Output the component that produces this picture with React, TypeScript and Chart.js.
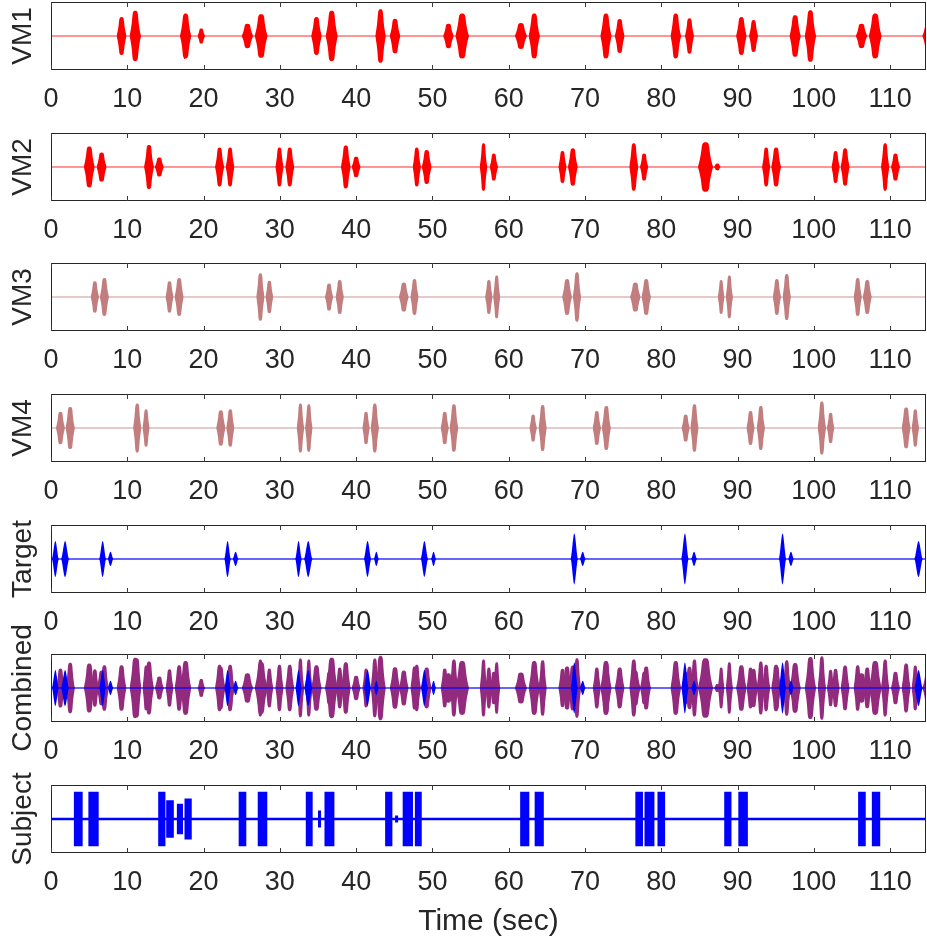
import React, { useEffect, useRef } from 'react';
import { Chart, registerables } from 'chart.js';

Chart.register(...registerables);

// ---------- data ----------
const X_MIN = 0;
const X_MAX = 114.7;
const X_END = 116;
const X_TICKS = [0, 10, 20, 30, 40, 50, 60, 70, 80, 90, 100, 110];

const PANEL_LABELS = ['VM1', 'VM2', 'VM3', 'VM4', 'Target', 'Combined', 'Subject'];
const X_TITLE = 'Time (sec)';

// bursts: [start sec, end sec, relative amplitude]
const VM1_BURSTS = [
  [8.6, 9.9, 0.56], [10.3, 11.8, 0.74],
  [16.9, 18.4, 0.66], [19.2, 20.2, 0.22],
  [25.0, 26.5, 0.36], [26.7, 28.4, 0.64],
  [34.1, 35.5, 0.56], [36.0, 37.6, 0.74],
  [42.5, 43.9, 0.79], [44.4, 45.8, 0.51],
  [51.4, 52.8, 0.36], [53.0, 54.8, 0.66],
  [60.8, 62.4, 0.38], [62.6, 64.1, 0.66],
  [72.0, 73.5, 0.66], [73.9, 75.2, 0.5],
  [81.2, 82.6, 0.66], [83.1, 84.3, 0.52],
  [89.8, 91.2, 0.56], [91.5, 92.7, 0.47],
  [96.8, 98.3, 0.61], [98.8, 100.3, 0.76],
  [105.5, 107.0, 0.36], [107.2, 108.9, 0.66],
  [114.2, 115.5, 0.3],
];

const VM2_BURSTS = [
  [4.3, 5.75, 0.6], [5.97, 7.3, 0.43],
  [12.2, 13.5, 0.65], [13.6, 14.8, 0.28],
  [21.5, 22.7, 0.57], [22.9, 24.05, 0.57],
  [29.4, 30.5, 0.57], [30.7, 31.9, 0.57],
  [38.0, 39.3, 0.63], [39.4, 40.6, 0.3],
  [47.4, 48.5, 0.57], [48.6, 49.9, 0.5],
  [56.2, 57.2, 0.7], [57.5, 58.6, 0.4],
  [66.5, 67.6, 0.47], [67.75, 69.06, 0.55],
  [75.8, 77.0, 0.7], [77.2, 78.3, 0.4],
  [84.8, 86.8, 0.73], [86.9, 87.8, 0.1],
  [93.2, 94.3, 0.57], [94.4, 95.7, 0.57],
  [102.3, 103.4, 0.47], [103.5, 104.7, 0.55],
  [108.8, 109.9, 0.7], [110.1, 111.3, 0.4],
];

const VM3_BURSTS = [
  [5.2, 6.3, 0.46], [6.4, 7.6, 0.56],
  [15.0, 16.07, 0.46], [16.2, 17.4, 0.56],
  [26.9, 28.0, 0.7], [28.1, 29.15, 0.48],
  [35.9, 37.0, 0.4], [37.3, 38.4, 0.5],
  [45.6, 46.9, 0.43], [47.1, 48.2, 0.53],
  [56.9, 57.9, 0.5], [57.95, 58.9, 0.63],
  [67.0, 68.3, 0.53], [68.4, 69.5, 0.73],
  [75.9, 77.3, 0.43], [77.4, 78.65, 0.53],
  [87.4, 88.3, 0.5], [88.45, 89.4, 0.63],
  [94.6, 95.7, 0.53], [95.9, 97.0, 0.68],
  [105.2, 106.3, 0.56], [106.4, 107.6, 0.5],
];

const VM4_BURSTS = [
  [0.65, 1.83, 0.48], [1.9, 3.14, 0.62],
  [10.76, 11.85, 0.72], [11.98, 12.94, 0.55],
  [21.65, 22.88, 0.52], [22.96, 24.05, 0.55],
  [32.2, 33.2, 0.72], [33.3, 34.3, 0.7],
  [40.8, 41.8, 0.48], [41.9, 43.0, 0.72],
  [51.07, 52.16, 0.48], [52.24, 53.4, 0.7],
  [62.7, 63.7, 0.4], [63.9, 65.0, 0.68],
  [71.0, 72.1, 0.5], [72.2, 73.4, 0.65],
  [82.65, 83.75, 0.4], [83.8, 84.9, 0.7],
  [91.15, 92.25, 0.5], [92.5, 93.6, 0.65],
  [100.5, 101.6, 0.78], [101.7, 102.7, 0.45],
  [111.5, 112.7, 0.6], [112.8, 113.8, 0.55],
];

const TARGET_BURSTS = [
  [0.1, 1.05, 0.53], [1.3, 2.4, 0.53],
  [6.3, 7.25, 0.53], [7.4, 8.2, 0.21],
  [22.7, 23.6, 0.53], [23.8, 24.6, 0.21],
  [32.0, 32.9, 0.53], [33.15, 34.3, 0.53],
  [41.0, 42.0, 0.53], [42.3, 43.0, 0.21],
  [48.45, 49.45, 0.53], [49.8, 50.5, 0.21],
  [68.1, 69.1, 0.75], [69.3, 70.1, 0.21],
  [82.6, 83.6, 0.75], [83.9, 84.7, 0.21],
  [95.4, 96.4, 0.75], [96.6, 97.4, 0.21],
  [113.15, 114.3, 0.53],
];

const SUBJECT_BURSTS = [
  [3.0, 4.15, 0.8], [4.9, 6.25, 0.8],
  [14.05, 15.0, 0.8], [15.1, 16.1, 0.55], [16.5, 17.3, 0.45], [17.5, 18.45, 0.6],
  [24.6, 25.6, 0.8], [27.1, 28.35, 0.8],
  [33.4, 34.3, 0.8], [35.0, 35.4, 0.25], [35.85, 37.15, 0.8],
  [43.8, 44.75, 0.8], [45.1, 45.5, 0.1], [46.1, 47.45, 0.8], [47.7, 48.6, 0.8],
  [61.5, 62.7, 0.8], [63.4, 64.6, 0.8],
  [76.6, 77.6, 0.8], [77.8, 79.1, 0.8], [79.5, 80.5, 0.8],
  [88.25, 89.2, 0.8], [90.1, 91.35, 0.8],
  [105.8, 106.8, 0.8], [107.6, 108.7, 0.8],
];

const COMBINED_GAIN = 1.2;

// ---------- styling / layout ----------
const FONT = '"Liberation Sans", Arial, Helvetica, sans-serif';
const TEXT_COLOR = '#262626';
const RED = '#ff0000';
const ROSE = '#c27e7e';
const BLUE = '#0000ff';
const PURPLE = '#922a7e';

const PANEL_TOPS = [2, 133, 263, 394, 525, 654, 785];
const PANEL_H = 68;
const PAD_T = 60;
const AXIS_H = 45;
const PAGE_W = 927;
const PAGE_H = 947;

type Burst = number[];
type Shape = 'bell' | 'arch' | 'block';
type Layer = {
  bursts: Burst[];
  color: string;
  gain: number;
  shape: Shape;
  baseline?: { color: string; width: number };
};

function lobePoints(b: Burst, sign: number, gain: number, shape: Shape) {
  const [s, e, a] = b;
  const v = sign * a * gain;
  if (shape === 'block') return [{ x: s, y: 0 }, { x: s, y: v }, { x: e, y: v }, { x: e, y: 0 }];
  return [{ x: s, y: 0 }, { x: (s + e) / 2, y: v }, { x: e, y: 0 }];
}

function envelope(bursts: Burst[], sign: number, gain: number, shape: Shape) {
  const pts: { x: number; y: number }[] = [{ x: X_MIN, y: 0 }];
  for (const b of bursts) pts.push(...lobePoints(b, sign, gain, shape));
  pts.push({ x: X_END, y: 0 });
  return pts;
}

const boxPlugin = {
  id: 'panelBox',
  afterDraw(chart: any) {
    const { ctx, chartArea } = chart;
    const { left, right, top, bottom } = chartArea;
    const xs = chart.scales.x;
    ctx.save();
    ctx.strokeStyle = TEXT_COLOR;
    ctx.lineWidth = 1;
    ctx.strokeRect(left + 0.5, top + 0.5, right - left - 1, bottom - top - 1);
    ctx.beginPath();
    ctx.strokeStyle = '#3a3a3a';
    for (const t of xs.ticks) {
      const px = Math.round(xs.getPixelForValue(t.value)) + 0.5;
      ctx.moveTo(px, bottom);
      ctx.lineTo(px, bottom - 5);
      ctx.moveTo(px, top);
      ctx.lineTo(px, top + 5);
    }
    ctx.stroke();
    ctx.restore();
  },
};

function fillSet(data: any[], color: string, shape: Shape) {
  return {
    data,
    borderColor: 'rgba(0,0,0,0)',
    borderWidth: 0,
    backgroundColor: color,
    pointRadius: 0,
    fill: 'origin',
    tension: shape === 'arch' ? 0.75 : 0,
    cubicInterpolationMode: shape === 'bell' ? 'monotone' : 'default',
  };
}

function Panel({ index, layers, xTitle }: { index: number; layers: Layer[]; xTitle?: string }) {
  const ref = useRef<HTMLCanvasElement | null>(null);
  const xH = xTitle ? PAGE_H - (PANEL_TOPS[index] + PANEL_H) : AXIS_H;
  const height = PAD_T + PANEL_H + xH;

  useEffect(() => {
    const canvas = ref.current;
    if (!canvas) return;
    const datasets: any[] = [];
    // baselines first (drawn on top)
    for (const L of layers) {
      if (L.baseline) {
        datasets.push({
          data: [{ x: X_MIN, y: 0 }, { x: X_END, y: 0 }],
          borderColor: L.baseline.color,
          borderWidth: L.baseline.width,
          pointRadius: 0,
          fill: false,
        });
      }
    }
    for (const L of layers) {
      for (const sign of [1, -1]) {
        if (L.shape === 'arch') {
          for (const b of L.bursts) datasets.push(fillSet(lobePoints(b, sign, L.gain, 'arch'), L.color, 'arch'));
        } else {
          datasets.push(fillSet(envelope(L.bursts, sign, L.gain, L.shape), L.color, L.shape));
        }
      }
    }
    const chart = new Chart(canvas, {
      type: 'line',
      data: { datasets },
      plugins: [boxPlugin],
      options: {
        animation: false,
        responsive: false,
        devicePixelRatio: 1,
        layout: { padding: { top: PAD_T, left: 0, right: 1, bottom: 0 } },
        plugins: { legend: { display: false }, tooltip: { enabled: false } },
        scales: {
          x: {
            type: 'linear',
            min: X_MIN,
            max: X_MAX,
            grid: { display: false, drawTicks: false },
            border: { display: false },
            afterBuildTicks: (scale: any) => {
              scale.ticks = X_TICKS.map((v) => ({ value: v }));
            },
            afterFit: (scale: any) => {
              scale.height = xH;
            },
            ticks: {
              autoSkip: false,
              maxRotation: 0,
              padding: 13,
              color: TEXT_COLOR,
              font: { family: FONT, size: 27 },
            },
            title: {
              display: !!xTitle,
              text: xTitle || '',
              color: TEXT_COLOR,
              font: { family: FONT, size: 30 },
              padding: { top: 0, bottom: 7 },
            },
          },
          y: {
            type: 'linear',
            min: -1,
            max: 1,
            grid: { display: false, drawTicks: false },
            border: { display: false },
            ticks: { display: false },
            afterFit: (scale: any) => {
              scale.width = 51;
            },
            title: {
              display: true,
              text: PANEL_LABELS[index],
              color: TEXT_COLOR,
              font: { family: FONT, size: 28 },
              padding: { top: 6, bottom: 0 },
            },
          },
        },
      } as any,
    });
    return () => chart.destroy();
  }, []);

  return (
    <canvas
      ref={ref}
      width={PAGE_W}
      height={height}
      style={{ position: 'absolute', left: 0, top: PANEL_TOPS[index] - PAD_T, width: PAGE_W, height }}
    />
  );
}

const redBase = { color: 'rgba(255,0,0,0.55)', width: 1.6 };
const roseBase = { color: 'rgba(194,126,126,0.55)', width: 1.6 };
const blueBase = { color: 'rgba(0,0,255,0.8)', width: 1.4 };

const PANELS: Layer[][] = [
  [{ bursts: VM1_BURSTS, color: RED, gain: 1, shape: 'arch', baseline: redBase }],
  [{ bursts: VM2_BURSTS, color: RED, gain: 1, shape: 'arch', baseline: redBase }],
  [{ bursts: VM3_BURSTS, color: ROSE, gain: 1, shape: 'arch', baseline: roseBase }],
  [{ bursts: VM4_BURSTS, color: ROSE, gain: 1, shape: 'arch', baseline: roseBase }],
  [{ bursts: TARGET_BURSTS, color: BLUE, gain: 1, shape: 'bell', baseline: blueBase }],
  [
    { bursts: TARGET_BURSTS, color: BLUE, gain: 1, shape: 'bell', baseline: blueBase },
    { bursts: VM1_BURSTS, color: PURPLE, gain: COMBINED_GAIN, shape: 'arch' },
    { bursts: VM2_BURSTS, color: PURPLE, gain: COMBINED_GAIN, shape: 'arch' },
    { bursts: VM3_BURSTS, color: PURPLE, gain: COMBINED_GAIN, shape: 'arch' },
    { bursts: VM4_BURSTS, color: PURPLE, gain: COMBINED_GAIN, shape: 'arch' },
  ],
  [{ bursts: SUBJECT_BURSTS, color: BLUE, gain: 1, shape: 'block', baseline: { color: BLUE, width: 2.6 } }],
];

export default function App() {
  useEffect(() => {
    document.body.style.margin = '0';
  }, []);
  return (
    <div
      style={{
        position: 'absolute',
        left: 0,
        top: 0,
        width: PAGE_W,
        height: PAGE_H,
        overflow: 'hidden',
        background: '#ffffff',
      }}
    >
      {PANELS.map((layers, i) => (
        <Panel key={i} index={i} layers={layers} xTitle={i === PANELS.length - 1 ? X_TITLE : undefined} />
      ))}
    </div>
  );
}
